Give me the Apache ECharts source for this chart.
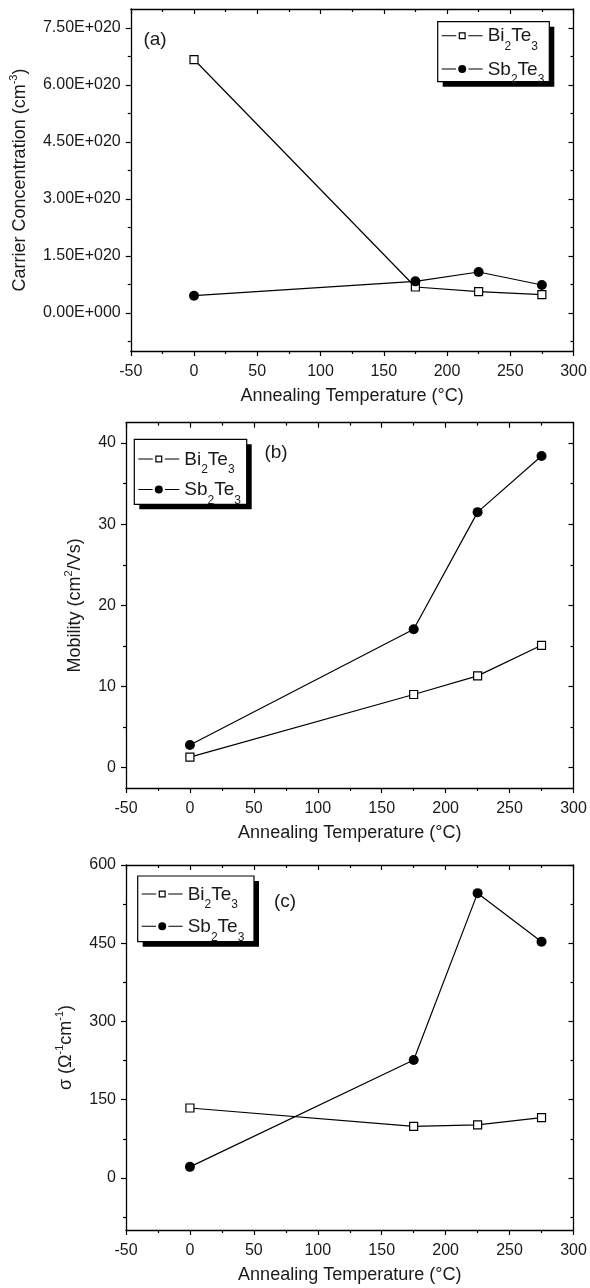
<!DOCTYPE html>
<html><head><meta charset="utf-8">
<script src="https://cdn.jsdelivr.net/npm/echarts@6/dist/echarts.min.js"></script>
<style>html,body{margin:0;padding:0;background:#fff}#c{width:590px;height:1288px}</style>
</head><body><div id="c"></div>
<script>
// ---- data ----
const temps = [0, 175, 225, 275];
const seriesNames = ['Bi2Te3', 'Sb2Te3'];
const carrierBi = [6.67e20, 0.684e20, 0.561e20, 0.482e20];
const carrierSb = [0.456e20, 0.833e20, 1.079e20, 0.737e20];
const mobilityBi = [1.31, 9.02, 11.31, 15.08];
const mobilitySb = [2.79, 17.05, 31.48, 38.4];
const sigmaBi = [134, 98.9, 101.5, 115.5];
const sigmaSb = [21.1, 226, 546, 453];
const xTicks = [-50, 0, 50, 100, 150, 200, 250, 300];
const carrierTicks = [0, 1.5e20, 3e20, 4.5e20, 6e20, 7.5e20];
const carrierMinor = [-0.75e20, 0.75e20, 2.25e20, 3.75e20, 5.25e20, 6.75e20];
const mobilityTicks = [0, 10, 20, 30, 40];
const mobilityMinor = [5, 15, 25, 35];
const sigmaTicks = [0, 150, 300, 450, 600];
const sigmaMinor = [-75, 75, 225, 375, 525];
const panelLabels = ['(a)', '(b)', '(c)'];

// ---- style ----
const FONT = '"Liberation Sans", Arial, Helvetica, sans-serif';
const TXT = '#1a1a1a';
const AXL = {color: '#000', width: 1.3};
const TKL = {color: '#000', width: 1.2};
const ICON_BI = 'path://M0,3.5L14.5,3.5L14.5,4.5L0,4.5Z M17,0.5L24,0.5L24,7.5L17,7.5Z M18.2,1.7L18.2,6.3L22.8,6.3L22.8,1.7Z M26.5,3.5L41,3.5L41,4.5L26.5,4.5Z';
const ICON_SB = 'path://M0,3.5L14.3,3.5L14.3,4.5L0,4.5Z M16.5,4A4,4 0 1,1 24.5,4A4,4 0 1,1 16.5,4Z M26.7,3.5L41,3.5L41,4.5L26.7,4.5Z';

function sci(v) {
  if (v === 0) return '0.00E+000';
  const e = Math.floor(Math.log10(Math.abs(v)) + 1e-9);
  const m = v / Math.pow(10, e);
  return m.toFixed(2) + 'E+' + String(e).padStart(3, '0');
}

const panels = [
  {grid: {left: 126, width: 447.5, top: 9, height: 342}, min: -1e20, max: 8e20,
   ticks: carrierTicks, minor: carrierMinor, fmt: sci,
   name: '{m|Carrier Concentration (cm}{sup|-3}{m|)}', nameGap: 96, bi: carrierBi, sb: carrierSb,
   legend: {left: 437.7, top: 21.7, gap: 6.2}, frame: {x: 437.7, y: 21.7, w: 111.6, h: 60},
   label: {x: 155, y: 40}},
  {grid: {left: 126, width: 447.5, top: 422.7, height: 365.3}, min: -2.5, max: 42.5,
   ticks: mobilityTicks, minor: mobilityMinor, fmt: v => String(v),
   name: '{m|Mobility (cm}{sup|2}{m|/Vs)}', nameGap: 37, bi: mobilityBi, sb: mobilitySb,
   legend: {left: 134.3, top: 445, gap: 3.5}, frame: {x: 134.3, y: 439.3, w: 112.4, h: 65},
   label: {x: 276, y: 453}},
  {grid: {left: 126, width: 447.5, top: 865, height: 365}, min: -100, max: 600,
   ticks: sigmaTicks, minor: sigmaMinor, fmt: v => String(v),
   name: '{m|σ (Ω}{sup|-1}{m|cm}{sup|-1}{m|)}', nameGap: 40, bi: sigmaBi, sb: sigmaSb,
   legend: {left: 137.7, top: 880, gap: 5.2}, frame: {x: 137.7, y: 876, w: 116.3, h: 65.7},
   label: {x: 285, y: 902}}
];

const grid = [], xAxis = [], yAxis = [], series = [], legend = [], graphic = [];

panels.forEach((p, i) => {
  grid.push(Object.assign({containLabel: false}, p.grid));
  xAxis.push({
    type: 'value', gridIndex: i, position: 'bottom', min: -50, max: 300, interval: 50,
    axisLine: {show: true, onZero: false, lineStyle: AXL},
    axisTick: {show: true, inside: false, length: 5, lineStyle: TKL},
    minorTick: {show: true, splitNumber: 2, length: 3, lineStyle: TKL},
    splitLine: {show: false}, minorSplitLine: {show: false},
    axisLabel: {show: true, customValues: xTicks, margin: 13, fontSize: 16, color: TXT, fontFamily: FONT},
    name: 'Annealing Temperature (°C)', nameLocation: 'middle', nameGap: 34,
    nameTextStyle: {fontSize: 18, color: TXT, fontFamily: FONT, lineHeight: 22}
  });
  xAxis.push({
    type: 'value', gridIndex: i, position: 'top', min: -50, max: 300, interval: 50,
    axisLine: {show: true, onZero: false, lineStyle: AXL},
    axisTick: {show: true, inside: true, length: 5, lineStyle: TKL},
    minorTick: {show: true, splitNumber: 2, length: 3, lineStyle: TKL},
    splitLine: {show: false}, minorSplitLine: {show: false},
    axisLabel: {show: false}
  });
  const base = {type: 'value', gridIndex: i, min: p.min, max: p.max, splitLine: {show: false}};
  yAxis.push(Object.assign({}, base, {
    position: 'left',
    axisLine: {show: true, onZero: false, lineStyle: AXL},
    axisTick: {show: true, inside: false, length: 5, customValues: p.ticks, lineStyle: TKL},
    axisLabel: {show: true, customValues: p.ticks, formatter: p.fmt, margin: 10, fontSize: 16, color: TXT, fontFamily: FONT},
    name: p.name, nameLocation: 'middle', nameRotate: 90, nameGap: p.nameGap,
    nameTextStyle: {fontSize: 18, color: TXT, fontFamily: FONT, lineHeight: 24,
      rich: {
        m: {fontSize: 18, color: TXT, fontFamily: FONT, lineHeight: 24, verticalAlign: 'middle'},
        sup: {fontSize: 11, color: TXT, fontFamily: FONT, lineHeight: 24, verticalAlign: 'top'}
      }}
  }));
  yAxis.push(Object.assign({}, base, {
    position: 'left',
    axisLine: {show: false, onZero: false},
    axisTick: {show: true, inside: false, length: 3, customValues: p.minor, lineStyle: TKL},
    axisLabel: {show: false}
  }));
  yAxis.push(Object.assign({}, base, {
    position: 'right',
    axisLine: {show: true, onZero: false, lineStyle: AXL},
    axisTick: {show: true, inside: true, length: 5, customValues: p.ticks, lineStyle: TKL},
    axisLabel: {show: false}
  }));
  yAxis.push(Object.assign({}, base, {
    position: 'right',
    axisLine: {show: false, onZero: false},
    axisTick: {show: true, inside: true, length: 3, customValues: p.minor, lineStyle: TKL},
    axisLabel: {show: false}
  }));

  series.push({
    name: seriesNames[0], type: 'line', xAxisIndex: 2 * i, yAxisIndex: 4 * i,
    data: temps.map((t, k) => [t, p.bi[k]]),
    symbol: 'rect', symbolSize: 8, showAllSymbol: true,
    itemStyle: {color: '#fff', borderColor: '#000', borderWidth: 1.2},
    lineStyle: {color: '#000', width: 1.2},
    emphasis: {disabled: true}, z: 3
  });
  series.push({
    name: seriesNames[1], type: 'line', xAxisIndex: 2 * i, yAxisIndex: 4 * i,
    data: temps.map((t, k) => [t, p.sb[k]]),
    symbol: 'circle', symbolSize: 10, showAllSymbol: true,
    itemStyle: {color: '#000', borderColor: '#000', borderWidth: 0},
    lineStyle: {color: '#000', width: 1.2},
    emphasis: {disabled: true}, z: 4
  });

  legend.push({
    data: [
      {name: seriesNames[0], icon: ICON_BI, itemStyle: {color: '#000', borderWidth: 0}},
      {name: seriesNames[1], icon: ICON_SB, itemStyle: {color: '#000', borderWidth: 0}}
    ],
    orient: 'vertical', left: p.legend.left, top: p.legend.top,
    itemWidth: 41, itemHeight: 8, itemGap: p.legend.gap,
    padding: [4, 4, 4, 4], z: 12,
    selectedMode: false,
    formatter: n => n.replace(/([A-Za-z]+)(\d)/g, '{m|$1}{s|$2}'),
    textStyle: {fontFamily: FONT, color: TXT, fontSize: 19,
      rich: {
        m: {fontSize: 19, fontFamily: FONT, color: TXT, lineHeight: 20, verticalAlign: 'top', padding: [1, 0, 0, 0]},
        s: {fontSize: 12, fontFamily: FONT, color: TXT, lineHeight: 20, verticalAlign: 'top', padding: [15, 0, 0, 0]}
      }}
  });

  const f = p.frame;
  graphic.push({type: 'rect', z: 8, shape: {x: f.x + 5, y: f.y + 5, width: f.w, height: f.h}, style: {fill: '#000'}});
  graphic.push({type: 'rect', z: 9, shape: {x: f.x, y: f.y, width: f.w, height: f.h}, style: {fill: '#fff', stroke: '#000', lineWidth: 1.2}});
  graphic.push({
    type: 'text', x: p.label.x, y: p.label.y, z: 10,
    style: {text: panelLabels[i], fontSize: 19, fontFamily: FONT, fill: TXT, textAlign: 'center', textVerticalAlign: 'middle'}
  });
});

const chart = echarts.init(document.getElementById('c'), null, {renderer: 'canvas'});
chart.setOption({
  animation: false,
  backgroundColor: '#fff',
  textStyle: {fontFamily: FONT},
  grid, xAxis, yAxis, series, legend, graphic
});
</script>
</body></html>
